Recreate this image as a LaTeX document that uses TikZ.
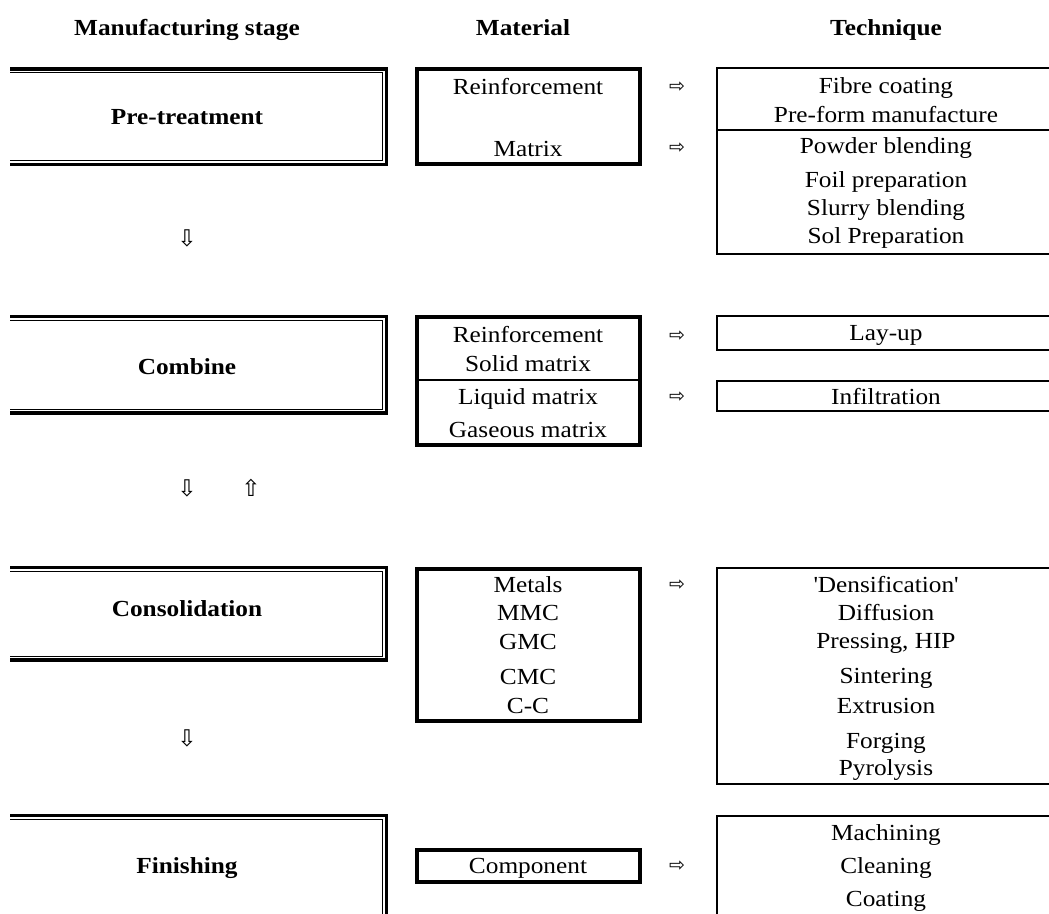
\documentclass[tikz,border=0pt]{standalone}
\usepackage{fontspec}
\setmainfont{Liberation Serif}[FakeStretch=1.1]
\newfontfamily\symfont{DejaVu Sans}
\tikzset{
  lbl/.style={inner sep=0pt, anchor=base, font=\fontsize{23}{27}\selectfont},
  blbl/.style={inner sep=0pt, anchor=base, font=\fontsize{23}{27}\selectfont\bfseries},
  stageouter/.style={line width=3.2pt, line join=miter},
  stageinner/.style={line width=1.3pt, line join=miter},
  matbox/.style={draw, line width=3.5pt, inner sep=0pt},
  techbox/.style={draw, line width=2pt, inner sep=0pt},
  divline/.style={line width=2pt},
  rarr/.style={inner sep=0pt, font=\symfont\fontsize{19}{19}\selectfont},
  darr/.style={inner sep=0pt, font=\symfont\fontsize{23}{23}\selectfont},
}
\begin{document}
\begin{tikzpicture}[x=1pt,y=-1pt]
\useasboundingbox (0,0) rectangle (1049,913);
% headers
\node[blbl] (h1) at (187,35) {Manufacturing stage};
\node[blbl] (h2) at (523,35) {Material};
\node[blbl] (h3) at (886,35) {Technique};
% stage boxes
\node[blbl] (spre) at (187,124) {Pre-treatment};
\draw[stageouter] (10,69) -- (386.5,69) -- (386.5,164.5) -- (10,164.5);
\draw[stageinner] (10,72.7) -- (382.5,72.7) -- (382.5,160.8) -- (10,160.8);
\node[blbl] (scomb) at (187,374) {Combine};
\draw[stageouter] (10,316.7) -- (386.5,316.7) -- (386.5,413) -- (10,413);
\draw[stageinner] (10,320.4) -- (382.5,320.4) -- (382.5,409.3) -- (10,409.3);
\node[blbl] (scons) at (187,616) {Consolidation};
\draw[stageouter] (10,567.7) -- (386.5,567.7) -- (386.5,660) -- (10,660);
\draw[stageinner] (10,571.4) -- (382.5,571.4) -- (382.5,656.3) -- (10,656.3);
\node[blbl] (sfin) at (187,873) {Finishing};
\draw[stageouter] (10,815.7) -- (386.5,815.7) -- (386.5,930);
\draw[stageinner] (10,819.4) -- (382.5,819.4) -- (382.5,930);
% stage arrows
\node[darr] (d1) at (187,238) {⇩};
\node[darr] (d2) at (187,488) {⇩};
\node[darr] (u2) at (251,488) {⇧};
\node[darr] (d3) at (187,738) {⇩};
% material boxes
\node[matbox, minimum width=223pt, minimum height=95pt] (mpre) at (528.5,116.5) {};
\node[lbl] (m1a) at (528,94) {Reinforcement};
\node[lbl] (m1b) at (528,156.5) {Matrix};
\node[matbox, minimum width=223pt, minimum height=128pt] (mcomb) at (528.5,381) {};
\draw[divline] (417,380) -- (640,380);
\node[lbl] (m2a) at (528,342) {Reinforcement};
\node[lbl] (m2b) at (528,371.5) {Solid matrix};
\node[lbl] (m2c) at (528,404) {Liquid matrix};
\node[lbl] (m2d) at (528,437.5) {Gaseous matrix};
\node[matbox, minimum width=223pt, minimum height=152pt] (mcons) at (528.5,645) {};
\node[lbl] (m3a) at (528,592.5) {Metals};
\node[lbl] (m3b) at (528,620.5) {MMC};
\node[lbl] (m3c) at (528,649) {GMC};
\node[lbl] (m3d) at (528,684) {CMC};
\node[lbl] (m3e) at (528,713.5) {C-C};
\node[matbox, minimum width=223pt, minimum height=32pt] (mfin) at (528.5,866) {};
\node[lbl] (m4a) at (528,873.5) {Component};
% right arrows
\node[rarr] (r1) at (677,87) {⇨};
\node[rarr] (r2) at (677,148) {⇨};
\node[rarr] (r3) at (677,336) {⇨};
\node[rarr] (r4) at (677,397) {⇨};
\node[rarr] (r5) at (677,585) {⇨};
\node[rarr] (r6) at (677,866) {⇨};
% technique boxes
\node[techbox, minimum width=338pt, minimum height=185.7pt] (tpre) at (886,161.15) {};
\draw[divline] (717,130) -- (1055,130);
\node[lbl] (t1a) at (886,93.5) {Fibre coating};
\node[lbl] (t1b) at (886,122) {Pre-form manufacture};
\node[lbl] (t1c) at (886,153.5) {Powder blending};
\node[lbl] (t1d) at (886,187.5) {Foil preparation};
\node[lbl] (t1e) at (886,215.5) {Slurry blending};
\node[lbl] (t1f) at (886,243.5) {Sol Preparation};
\node[techbox, minimum width=338pt, minimum height=33.5pt] (tlay) at (886,332.75) {};
\node[lbl] (t2a) at (886,340.5) {Lay-up};
\node[techbox, minimum width=338pt, minimum height=30pt] (tinf) at (886,396) {};
\node[lbl] (t2b) at (886,404) {Infiltration};
\node[techbox, minimum width=338pt, minimum height=216pt] (tcons) at (886,676) {};
\node[lbl] (t3a) at (886,592.5) {\textquotesingle Densification\textquotesingle};
\node[lbl] (t3b) at (886,620.5) {Diffusion};
\node[lbl] (t3c) at (886,648) {Pressing, HIP};
\node[lbl] (t3d) at (886,683) {Sintering};
\node[lbl] (t3e) at (886,713.5) {Extrusion};
\node[lbl] (t3f) at (886,748.5) {Forging};
\node[lbl] (t3g) at (886,775.5) {Pyrolysis};
\node[techbox, minimum width=338pt, minimum height=114pt] (tfin) at (886,873) {};
\node[lbl] (t4a) at (886,840) {Machining};
\node[lbl] (t4b) at (886,873) {Cleaning};
\node[lbl] (t4c) at (886,906) {Coating};
\end{tikzpicture}
\end{document}
